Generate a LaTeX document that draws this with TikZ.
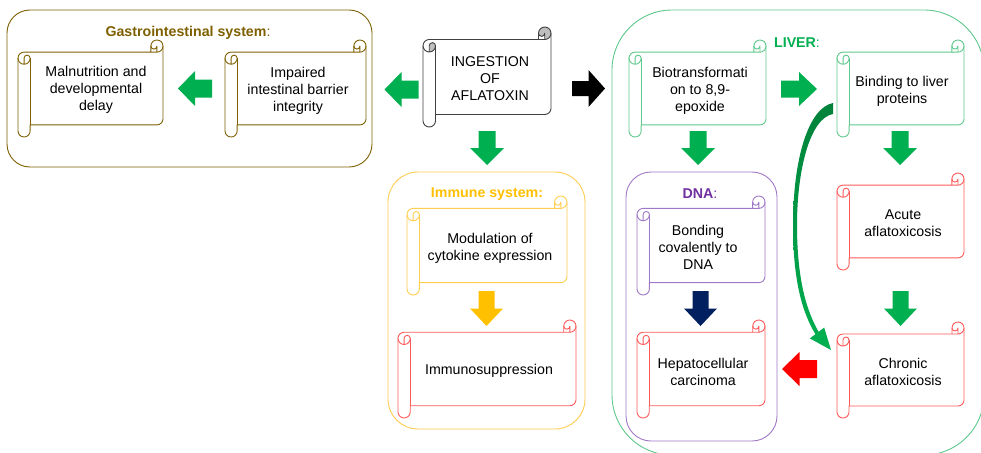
\documentclass[tikz,border=0pt]{standalone}
\usepackage{fontspec}
\setmainfont{Liberation Sans}
\definecolor{giC}{HTML}{7F6000}
\definecolor{lvC}{RGB}{95,200,140}
\definecolor{lvT}{HTML}{00B050}
\definecolor{imC}{RGB}{255,205,80}
\definecolor{imT}{HTML}{FFC000}
\definecolor{dnC}{RGB}{160,120,200}
\definecolor{dnT}{HTML}{7030A0}
\definecolor{rdC}{RGB}{255,90,90}
\definecolor{inC}{HTML}{404040}
\definecolor{inF}{HTML}{BFBFBF}
\definecolor{arG}{HTML}{00B050}
\definecolor{arGd}{RGB}{0,130,58}
\definecolor{arN}{HTML}{002060}
\definecolor{arY}{HTML}{FFC000}
\definecolor{arR}{HTML}{FF0000}

% scroll: #1 l, #2 t, #3 r, #4 b, #5 line colour, #6 curl fill
\newcommand{\myscroll}[6]{%
 \pgfmathsetmacro{\scW}{#3-#1}%
 \pgfmathsetmacro{\scH}{#4-#2}%
 \pgfmathsetmacro{\scC}{min(\scW,\scH)/8}%
 \pgfmathsetmacro{\scCh}{\scC/2}%
 \pgfmathsetmacro{\scCq}{\scC/4}%
 \pgfmathsetmacro{\scYc}{1.5*\scC}%
 \pgfmathsetmacro{\scYd}{2*\scC}%
 \pgfmathsetmacro{\scYf}{\scH-\scC}%
 \pgfmathsetmacro{\scYg}{\scH-\scCh}%
 \pgfmathsetmacro{\scYe}{\scH-1.5*\scC}%
 \pgfmathsetmacro{\scXc}{\scW-\scC}%
 \pgfmathsetmacro{\scXd}{\scW-\scCh}%
 \begin{scope}[shift={(#1,#2)}]
  \path[fill=white] (0,\scYc) arc[start angle=180,delta angle=90,radius=\scCh] -- (\scXc,\scC) -- (\scXc,\scCh) arc[start angle=180,delta angle=180,radius=\scCh] -- (\scW,\scYe) arc[start angle=0,delta angle=90,radius=\scCh] -- (\scC,\scYf) -- (\scC,\scYg) arc[start angle=0,delta angle=180,radius=\scCh] -- cycle;
  \fill[#6] (\scCh,\scYd) arc[start angle=90,delta angle=-90,radius=\scCh] arc[start angle=0,delta angle=-180,radius=\scCq] -- cycle;
  \fill[#6] (\scXd,\scC) arc[start angle=90,delta angle=-270,radius=\scCh] arc[start angle=180,delta angle=-180,radius=\scCq] -- cycle;
  \draw[scline,#5] (0,\scYc) arc[start angle=180,delta angle=90,radius=\scCh] -- (\scXc,\scC) -- (\scXc,\scCh) arc[start angle=180,delta angle=180,radius=\scCh] -- (\scW,\scYe) arc[start angle=0,delta angle=90,radius=\scCh] -- (\scC,\scYf) -- (\scC,\scYg) arc[start angle=0,delta angle=180,radius=\scCh] -- cycle;
  \draw[scline,#5] (\scXc,\scC) -- (\scXd,\scC) arc[start angle=90,delta angle=-90,radius=\scCh];
  \draw[scline,#5] (\scXd,\scC) -- (\scXd,\scCh) arc[start angle=0,delta angle=180,radius=\scCq];
  \draw[scline,#5] (\scCh,\scYd) -- (\scCh,\scYc) arc[start angle=180,delta angle=180,radius=\scCq] arc[start angle=0,delta angle=180,radius=\scCh];
  \draw[scline,#5] (\scC,\scYc) -- (\scC,\scYf);
 \end{scope}}

% block arrow: #1 cx, #2 cy, #3 rotation, #4 colour, #5 half length, #6 half head width, #7 half shaft width
\newcommand{\blockarr}[7]{%
 \fill[#4, shift={(#1,#2)}, rotate=#3] (-#5,-#7) -- (0,-#7) -- (0,-#6) -- (#5,0) -- (0,#6) -- (0,#7) -- (-#5,#7) -- cycle;}

\begin{document}
\begin{tikzpicture}[x=1pt,y=-1pt,
  scline/.style={line width=0.9pt,line join=round},
  box/.style={line width=0.9pt},
  txt/.style={font=\fontsize{14.2}{17}\selectfont,align=center,inner sep=0pt,text=black},
  ttl/.style={font=\fontsize{14.2}{17}\selectfont,inner sep=0pt}]
\clip (0,0) rectangle (981,452);
\fill[white] (0,0) rectangle (981,452);

% containers
\draw[box,giC,rounded corners=23pt] (7,10) rectangle (372,167);
\draw[box,lvC,rounded corners=60pt] (612,10) rectangle (984,455);
\draw[box,imC,rounded corners=30pt] (388,172) rectangle (585,429);
\draw[box,dnC,rounded corners=25pt] (626,172) rectangle (777,441);

% titles
\node[ttl,text=giC] (tgi) at (188,32.5) {\textbf{Gastrointestinal system}:};
\node[ttl,text=lvT] (tlv) at (797,43) {\textbf{LIVER}:};
\node[ttl,text=imT] (tim) at (487,194) {\textbf{Immune system:}};
\node[ttl,text=dnT] (tdn) at (700,193.5) {\textbf{DNA}:};

% scrolls
\myscroll{18}{40}{163}{137}{giC}{white}
\myscroll{225}{40}{366}{137}{giC}{white}
\myscroll{423}{27}{551}{127}{inC}{inF}
\myscroll{629}{40}{766}{137}{lvC}{white}
\myscroll{837}{40}{964}{137}{lvC}{white}
\myscroll{407}{196}{567}{295}{imC}{white}
\myscroll{398}{320}{576}{418}{rdC}{white}
\myscroll{637}{196}{765}{295}{dnC}{white}
\myscroll{637}{320}{765}{418}{rdC}{white}
\myscroll{837}{173}{964}{270}{rdC}{white}
\myscroll{837}{322}{964}{418}{rdC}{white}

% texts
\node[txt] (mal) at (96,90) {Malnutrition and\\developmental\\delay};
\node[txt] (imp) at (298,91) {Impaired\\intestinal barrier\\integrity};
\node[txt] (ing) at (490,78.5) {INGESTION\\OF\\AFLATOXIN};
\node[txt] (bio) at (700,91) {Biotransformati\\on to 8,9-\\epoxide};
\node[txt] (bind) at (902,91.5) {Binding to liver\\proteins};
\node[txt] (mod) at (490,248) {Modulation of\\cytokine expression};
\node[txt] (ims) at (489,371) {Immunosuppression};
\node[txt] (bond) at (698,247.5) {Bonding\\covalently to\\DNA};
\node[txt] (hep) at (703,371.5) {Hepatocellular\\carcinoma};
\node[txt] (acu) at (903,223.5) {Acute\\aflatoxicosis};
\node[txt] (chr) at (903,371.5) {Chronic\\aflatoxicosis};

% block arrows
\blockarr{195}{88.5}{180}{arG}{17}{17.5}{9}
\blockarr{401.5}{89.5}{180}{arG}{17}{17.5}{9}
\blockarr{588.5}{88.5}{0}{black}{16.5}{18.5}{7.5}
\blockarr{487}{148}{-90}{arG}{17}{17}{8.5}
\blockarr{799}{89}{0}{arG}{18}{17}{8.5}
\blockarr{698}{148}{-90}{arG}{17}{17}{8.5}
\blockarr{900}{148}{-90}{arG}{17}{17}{8.5}
\blockarr{486.5}{308.5}{-90}{arY}{17.5}{16.5}{8}
\blockarr{700.5}{308.5}{-90}{arN}{17.5}{16.5}{8}
\blockarr{900.5}{308.5}{-90}{arG}{17.5}{16.5}{8}
\blockarr{799.5}{369}{180}{arR}{17.5}{17}{9}

% curved arrow from binding to chronic
\path[top color=arGd,bottom color=arG]
  (833,103) .. controls (808,108) and (793,160) .. (793,225)
  .. controls (793,280) and (802,312) .. (815.4,334.2)
  -- (809.8,338.4) -- (831,350) -- (824.2,327.6) -- (818.6,331.8)
  .. controls (806,310) and (797,278) .. (797,225)
  .. controls (797,170) and (810,118) .. (833,114) -- cycle;
\end{tikzpicture}
\end{document}
